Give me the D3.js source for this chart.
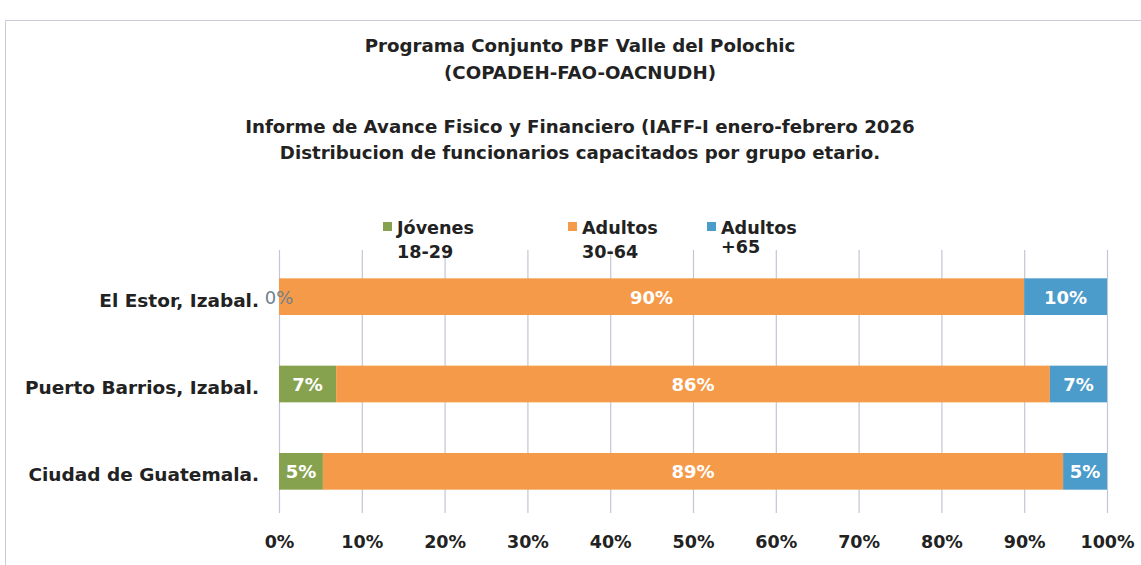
<!DOCTYPE html>
<html><head><meta charset="utf-8">
<script src="https://cdn.jsdelivr.net/npm/d3@7"></script>
<style>body{margin:0;background:#fff;} svg{display:block;font-family:"DejaVu Sans","Noto Sans",sans-serif;}</style>
</head><body>
<svg id="c" width="1141" height="565"></svg>
<script>
const categories = ["El Estor, Izabal.", "Puerto Barrios, Izabal.", "Ciudad de Guatemala."];
const seriesNames = ["Jóvenes|18-29", "Adultos|30-64", "Adultos|+65"];
const jovenes = [0, 6.9, 5.3];
const adultos = [90, 86.2, 89.4];
const mayores = [10, 6.9, 5.3];
const labelsJovenes = ["0%", "7%", "5%"];
const labelsAdultos = ["90%", "86%", "89%"];
const labelsMayores = ["10%", "7%", "5%"];
const ticks = [0,10,20,30,40,50,60,70,80,90,100];
const titleLines = ["Programa Conjunto PBF Valle del Polochic","(COPADEH-FAO-OACNUDH)","Informe de Avance Fisico y Financiero (IAFF-I enero-febrero 2026","Distribucion de funcionarios capacitados por grupo etario."];
const colors = ["#86a24e", "#f59a48", "#4b9bcb"];

const svg = d3.select("#c");
svg.append("path").attr("d","M5.5,565 V20.5 H1141").attr("fill","none").attr("stroke","#c9ccd6").attr("stroke-width",1);

const titleY = [52, 79, 133, 159];
svg.selectAll("text.title").data(titleLines).join("text").attr("class","title")
  .attr("x",580).attr("y",(d,i)=>titleY[i]).attr("text-anchor","middle")
  .attr("font-size",18.2).attr("font-weight","bold").attr("fill","#222").text(d=>d);

const x = d3.scaleLinear().domain([0,100]).range([279,1107]);
const y = d3.scaleBand().domain(categories).range([253,515]).paddingInner(0.58).paddingOuter(0.29);

svg.append("g").selectAll("line").data(ticks).join("line")
  .attr("x1",d=>x(d)+0.5).attr("x2",d=>x(d)+0.5).attr("y1",250).attr("y2",513)
  .attr("stroke","#c3c6d4").attr("stroke-width",1.2);

const series = [jovenes, adultos, mayores];
const labels = [labelsJovenes, labelsAdultos, labelsMayores];
const stacked = categories.map((c,i)=>{
  let acc=0; return series.map((s,k)=>{const r={cat:c,k,x0:acc,x1:acc+s[i],lab:labels[k][i]}; acc+=s[i]; return r;});
}).flat();

const g = svg.append("g");
g.selectAll("rect").data(stacked.filter(d=>d.x1>d.x0)).join("rect")
  .attr("x",d=>x(d.x0)).attr("width",d=>x(d.x1)-x(d.x0))
  .attr("y",d=>y(d.cat)).attr("height",y.bandwidth()).attr("fill",d=>colors[d.k]);

g.selectAll("text").data(stacked).join("text")
  .attr("x",d=>(x(d.x0)+x(d.x1))/2)
  .attr("y",d=>y(d.cat)+y.bandwidth()/2+7)
  .attr("text-anchor","middle").attr("font-size",18).attr("font-weight",d=>d.x1===d.x0?"normal":"bold")
  .attr("fill",d=>d.x1===d.x0?"#6f8090":"#fff").text(d=>d.lab);

svg.append("g").selectAll("text").data(categories).join("text")
  .attr("x",259).attr("y",d=>y(d)+y.bandwidth()/2+10).attr("text-anchor","end")
  .attr("font-size",18.5).attr("font-weight","bold").attr("fill","#222").text(d=>d);

const axis = d3.axisBottom(x).tickValues(ticks).tickFormat(d=>d+"%").tickSize(0).tickPadding(0);
const ax = svg.append("g").attr("transform","translate(0,536)").call(axis);
ax.select(".domain").remove();
ax.selectAll("text").attr("font-size",17.5).attr("font-weight","bold").attr("fill","#222")
  .attr("font-family","'DejaVu Sans', 'Noto Sans', sans-serif");

const legX = [383, 568, 707];
const leg = svg.append("g").selectAll("g").data(seriesNames).join("g")
  .attr("transform",(d,i)=>`translate(${legX[i]},0)`);
leg.append("rect").attr("x",0).attr("y",222).attr("width",9).attr("height",9).attr("fill",(d,i)=>colors[i]);
leg.append("text").attr("x",14).attr("y",234).attr("font-size",17.6).attr("font-weight","bold").attr("fill","#222")
  .text(d=>d.split("|")[0]);
leg.append("text").attr("x",14).attr("y",(d,i)=>i===2?253:258).attr("font-size",17.6).attr("font-weight","bold").attr("fill","#222")
  .text(d=>d.split("|")[1]);
</script>
</body></html>
